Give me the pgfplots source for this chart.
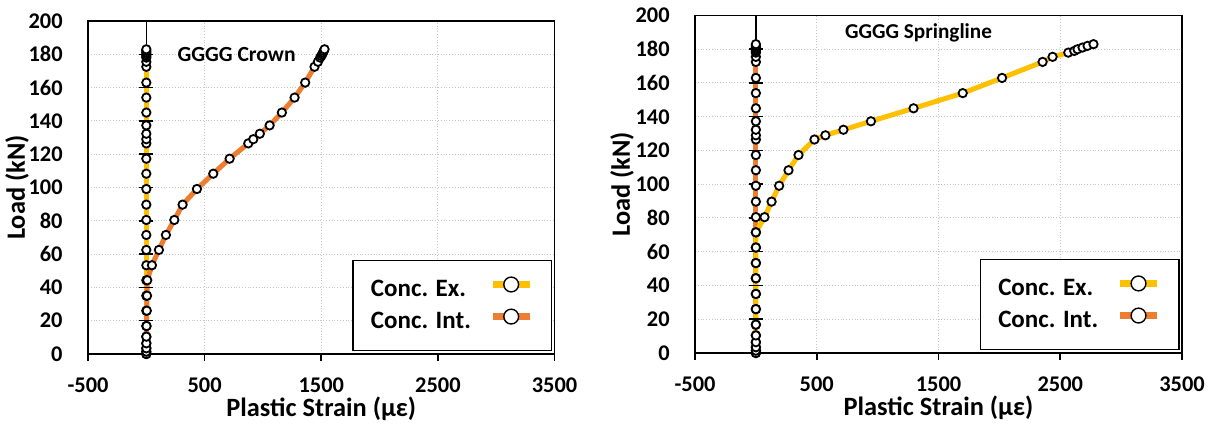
\documentclass[border=0pt]{standalone}
\usepackage{fontspec}
\setmainfont{Carlito}
\usepackage{pgfplots}
\usepackage{pgfplotstable}
\pgfplotsset{compat=1.18}

\definecolor{exc}{HTML}{FFC000}
\definecolor{intc}{HTML}{ED7D31}

% load (kN), exterior and interior strain (micro-strain)
\pgfplotstableread{
load ex int
0 0 0
1.4 0 0
3.4 0 0
6.4 0 0
10.4 0 0
16.8 0 2
26 0 4
35 0 6
44.3 0 8
53.3 0 48
62.5 0 108
71.5 0 168
80.5 0 240
89.7 0 311
99.1 0 434
108.3 0 574
117.3 0 714
126.5 0 874
129 0 917
132.3 0 973
137.3 0 1057
145 0 1162
154 0 1271
163 0 1362
172.5 0 1442
175.5 0 1471
178 0 1490
179 0 1500
180 0 1508
181 0 1515
182 0 1521
183 0 1528
}\crown

\pgfplotstableread{
load ex int
0 0 0
1.4 0 0
3.4 0 0
6.4 0 0
10.4 0 0
16.8 0 0
26 0 0
35 0 0
44.3 0 0
53.3 0 0
62.5 0 0
71.5 0 0
80.5 71 0
89.7 129 0
99.1 191 0
108.3 268 0
117.3 350 0
126.5 481 0
129 571 0
132.3 719 0
137.3 945 0
145 1295 0
154 1699 0
163 2022 0
172.5 2355 0
175.5 2437 0
178 2566 0
179 2615 0
180 2642 0
181 2683 0
182 2724 0
183 2773 0
}\spring

\pgfplotsset{
  strainplot/.style={
    scale only axis,
    xmin=-500, xmax=3500, ymin=0, ymax=200,
    xtick={-500,500,1500,2500,3500},
    xticklabels={-500,500,1500,2500,3500},
    ytick={0,20,...,200},
    xtick pos=bottom,
    ytick pos=left,
    tick align=outside,
    major tick length=3.5pt,
    ytick style={draw=none},
    xtick style={black, line width=0.8pt},
    grid=major,
    grid style={densely dotted, gray!45, line width=0.5pt},
    axis line style={black, line width=0.8pt},
    /pgf/number format/assume math mode=true,
    tick label style={font=\fontsize{11.2}{13}\selectfont\bfseries},
    yticklabel style={anchor=east, inner sep=0pt, xshift=-9pt},
    xticklabel style={anchor=base, inner sep=0pt, yshift=-16pt},
    label style={font=\fontsize{13.2}{15}\selectfont\bfseries},
    xlabel={Plastic Strain (με)},
    ylabel={Load (kN)},
    xlabel style={at={(axis description cs:0.5,0)}, anchor=base, yshift=-31pt},
    clip=false,
    legend plot pos=right,
    legend cell align=left,
    legend style={draw=black, line width=0.75pt, anchor=south east,
      at={(rel axis cs:0.995,0.008)},
      font=\fontsize{12.5}{15}\selectfont\bfseries,
      inner xsep=9pt, inner ysep=8pt, row sep=3pt,
      nodes={inner sep=0pt, text height=9pt, text depth=3pt},
      /tikz/every odd column/.append style={column sep=9pt}},
    legend image code/.code={
      \draw[##1, mark=none, line width=3.8pt] (0pt,3pt) -- (18.5pt,3pt);
      \draw[black, fill=white, line width=0.7pt] (9.25pt,3pt) circle (3.7pt);
    },
  },
  series/.style={line width=2.5pt, mark=*, mark size=2.1pt,
    mark options={fill=white, draw=black, line width=0.9pt}},
  zeroaxis/.style={black, line width=0.75pt, mark=-, mark size=3.5pt,
    mark options={line width=0.75pt}, forget plot},
}

\begin{document}
\begin{tikzpicture}
\path[use as bounding box] (0pt,0pt) rectangle (607.5pt,211.5pt);

\begin{axis}[strainplot, at={(44pt,34.5pt)}, anchor=south west,
  width=233.3pt, height=166.5pt,
  ylabel style={at={(axis description cs:-0.152,0.5)}, anchor=center}]
\addplot[zeroaxis] coordinates {(0,0) (0,20) (0,40) (0,60) (0,80) (0,100) (0,120) (0,140) (0,160) (0,180) (0,200)};
\addplot[series, color=exc] table[x=ex, y=load] {\crown};
\addlegendentry{Conc. Ex.}
\addplot[series, color=intc] table[x=int, y=load] {\crown};
\addlegendentry{Conc. Int.}
\node[font=\fontsize{10.8}{12}\selectfont\bfseries] at (axis cs:774,180) {GGGG Crown};
\end{axis}

\begin{axis}[strainplot, at={(347.5pt,35pt)}, anchor=south west,
  width=243.5pt, height=168.75pt, reverse legend,
  ylabel style={at={(axis description cs:-0.15,0.5)}, anchor=center}]
\addplot[zeroaxis] coordinates {(0,0) (0,20) (0,40) (0,60) (0,80) (0,100) (0,120) (0,140) (0,160) (0,180) (0,200)};
\addplot[series, color=intc] table[x=int, y=load] {\spring};
\addlegendentry{Conc. Int.}
\addplot[series, color=exc] table[x=ex, y=load] {\spring};
\addlegendentry{Conc. Ex.}
\node[font=\fontsize{10.6}{12}\selectfont\bfseries] at (axis cs:1336,190) {GGGG Springline};
\end{axis}
\end{tikzpicture}
\end{document}
